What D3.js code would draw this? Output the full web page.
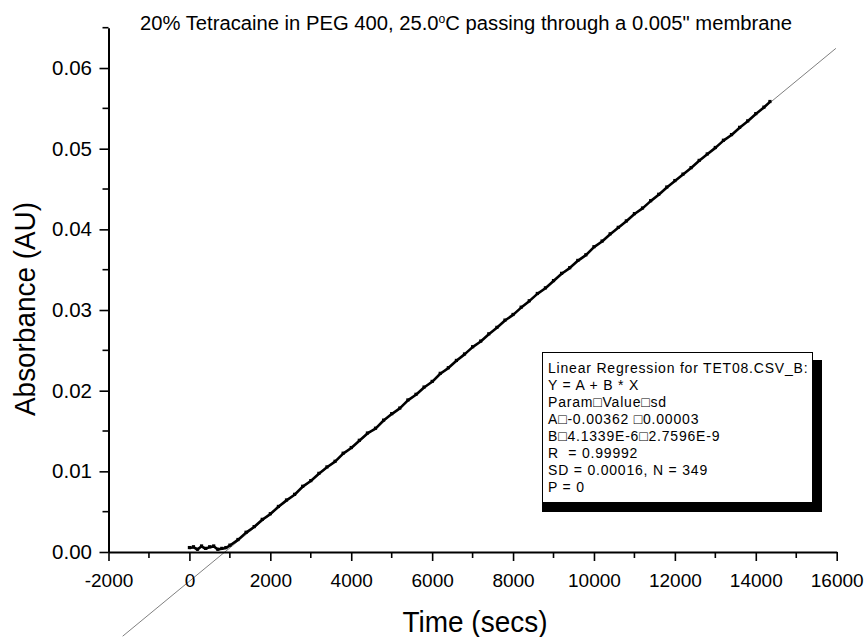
<!DOCTYPE html>
<html><head><meta charset="utf-8">
<script src="https://cdn.jsdelivr.net/npm/d3@7"></script>
<style>
html,body{margin:0;padding:0;background:#fff;}
svg{display:block;font-family:"Liberation Sans",Arial,sans-serif;}
.pre{white-space:pre;}
</style></head>
<body>
<svg id="c" width="867" height="637"></svg>
<script>
// ---- data ----
const timeSecs = [0,100,200,300,400,500,600,700,800,900,1000,1200,1400,1600,1800,2000,2200,2400,2600,2800,3000,3200,3400,3600,3800,4000,4200,4400,4600,4800,5000,5200,5400,5600,5800,6000,6200,6400,6600,6800,7000,7200,7400,7600,7800,8000,8200,8400,8600,8800,9000,9200,9400,9600,9800,10000,10200,10400,10600,10800,11000,11200,11400,11600,11800,12000,12200,12400,12600,12800,13000,13200,13400,13600,13800,14000,14200,14350];
const absorbance = [0.0005,0.0006,0.0003,0.0007,0.0004,0.0006,0.0007,0.0003,0.0004,0.0005,0.0008,0.0015,0.0024,0.0031,0.0040,0.0047,0.0056,0.0064,0.0071,0.0081,0.0088,0.0097,0.0105,0.0112,0.0122,0.0129,0.0138,0.0147,0.0153,0.0163,0.0171,0.0178,0.0188,0.0195,0.0204,0.0211,0.0221,0.0228,0.0237,0.0245,0.0254,0.0261,0.0270,0.0278,0.0287,0.0294,0.0303,0.0311,0.0320,0.0327,0.0336,0.0345,0.0352,0.0361,0.0368,0.0378,0.0385,0.0394,0.0402,0.0410,0.0419,0.0426,0.0435,0.0443,0.0452,0.0460,0.0468,0.0476,0.0485,0.0493,0.0501,0.0510,0.0517,0.0526,0.0534,0.0543,0.0551,0.0558];
const fitA = -0.00362, fitB = 4.1339e-6;
const fitRange = [-1650, 15980];
const xTicks = [-2000,0,2000,4000,6000,8000,10000,12000,14000,16000];
const yTicks = [0,0.01,0.02,0.03,0.04,0.05,0.06];
const titleText = ["20% Tetracaine in PEG 400, 25.0", "o", "C passing through a 0.005\" membrane"];
const legendLines = ["Linear Regression for TET08.CSV_B:","Y = A + B * X","Param\u25A1Value\u25A1sd","A\u25A1-0.00362 \u25A10.00003","B\u25A14.1339E-6\u25A12.7596E-9","R  = 0.99992","SD = 0.00016, N = 349","P = 0"];

const svg = d3.select("#c");
const x = d3.scaleLinear().domain([-2000,16000]).range([108.5,836.7]);
const y = d3.scaleLinear().domain([0,0.065]).range([552,27.7]);

// regression line (gray)
svg.append("line")
  .attr("x1",x(fitRange[0])).attr("y1",y(fitA+fitB*fitRange[0]))
  .attr("x2",x(fitRange[1])).attr("y2",y(fitA+fitB*fitRange[1]))
  .attr("stroke","#808080").attr("stroke-width",1);

// data
const pts = timeSecs.map((t,i)=>[t,absorbance[i]]);
svg.append("path").datum(pts)
  .attr("d",d3.line().x(d=>x(d[0])).y(d=>y(d[1])))
  .attr("fill","none").attr("stroke","#000").attr("stroke-width",2.6).attr("stroke-linejoin","round");
svg.append("g").selectAll("rect").data(pts).join("rect")
  .attr("x",d=>x(d[0])-1.6).attr("y",d=>y(d[1])-2).attr("width",3.2).attr("height",3.2).attr("fill","#000");

// axes
const xAxis = d3.axisBottom(x).tickValues(xTicks).tickSize(9).tickSizeOuter(0).tickPadding(12).tickFormat(d=>String(d));
const gx = svg.append("g").attr("transform","translate(0,552)").call(xAxis);
const yAxis = d3.axisLeft(y).tickValues(yTicks).tickSize(9).tickSizeOuter(0).tickPadding(7.5).tickFormat(d=>d.toFixed(2));
const gy = svg.append("g").attr("transform","translate(108.5,0)").call(yAxis);
[gx,gy].forEach(g=>{
  g.select(".domain").attr("stroke","#000").attr("stroke-width",2);
  g.selectAll(".tick line").attr("stroke","#000").attr("stroke-width",1.6);
  g.selectAll("text").attr("fill","#000").attr("font-family","Liberation Sans, Arial, sans-serif");
});
gx.selectAll("text").attr("font-size",19).attr("dy","0.72em");
gy.selectAll("text").attr("font-size",20.5);
// minor ticks
const xMinor = d3.range(-1000,16000,2000);
svg.append("g").selectAll("line").data(xMinor).join("line")
  .attr("x1",d=>x(d)).attr("x2",d=>x(d)).attr("y1",552).attr("y2",558)
  .attr("stroke","#000").attr("stroke-width",1.6);
const yMinor = d3.range(0.005,0.066,0.01);
svg.append("g").selectAll("line").data(yMinor).join("line")
  .attr("x1",108.5).attr("x2",102.5).attr("y1",d=>y(d)).attr("y2",d=>y(d))
  .attr("stroke","#000").attr("stroke-width",1.6);

// title
const tt = svg.append("text").attr("x",466).attr("y",30).attr("text-anchor","middle")
  .attr("font-size",20).attr("textLength",652).attr("lengthAdjust","spacingAndGlyphs");
tt.append("tspan").text(titleText[0]);
tt.append("tspan").attr("dy",-7).attr("font-size",12).text(titleText[1]);
tt.append("tspan").attr("dy",7).text(titleText[2]);

// axis titles
svg.append("text").attr("x",475).attr("y",632).attr("text-anchor","middle")
  .attr("font-size",29).attr("textLength",145).attr("lengthAdjust","spacingAndGlyphs").text("Time (secs)");
svg.append("text").attr("transform","translate(35,309) rotate(-90)").attr("text-anchor","middle")
  .attr("font-size",29).attr("textLength",214).attr("lengthAdjust","spacingAndGlyphs").text("Absorbance (AU)");

// legend box
svg.append("rect").attr("x",542).attr("y",360).attr("width",280).attr("height",152).attr("fill","#000");
svg.append("rect").attr("x",542.5).attr("y",352.5).attr("width",270).attr("height",150).attr("fill","#fff").attr("stroke","#000").attr("stroke-width",1);
svg.append("g").selectAll("text").data(legendLines).join("text")
  .attr("class","pre")
  .attr("x",548).attr("y",(d,i)=>373+i*17).attr("font-size",14).attr("letter-spacing",0.8).attr("fill","#000").text(d=>d);
</script>
</body></html>
